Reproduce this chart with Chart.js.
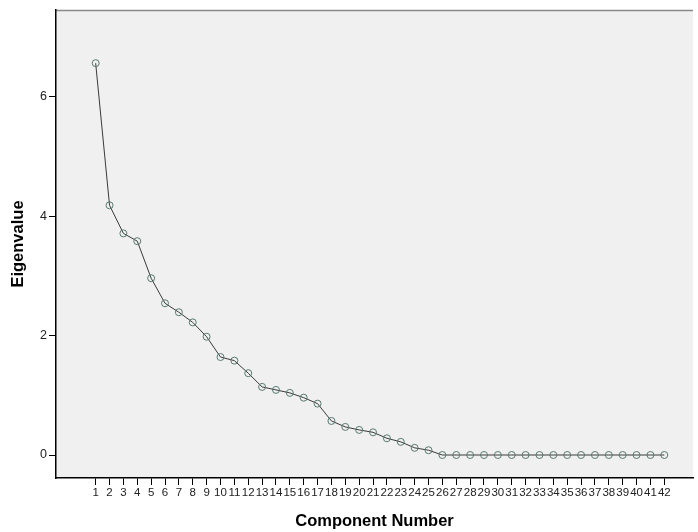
<!DOCTYPE html>
<html>
<head>
<meta charset="utf-8">
<script src="https://cdn.jsdelivr.net/npm/chart.js@4/dist/chart.umd.min.js"></script>
<style>
  html, body { margin: 0; padding: 0; background: #ffffff; }
  #wrap { width: 698px; height: 532px; }
</style>
</head>
<body>
<div id="wrap"><canvas id="c" width="698" height="532"></canvas></div>
<script>
// Component numbers (x categories)
const components = [1,2,3,4,5,6,7,8,9,10,11,12,13,14,15,16,17,18,19,20,21,
                    22,23,24,25,26,27,28,29,30,31,32,33,34,35,36,37,38,39,40,41,42];
// Eigenvalues
const eigenvalues = [6.56,4.18,3.71,3.58,2.96,2.54,2.39,2.22,1.98,1.64,1.58,1.37,
                     1.14,1.09,1.04,0.96,0.86,0.57,0.47,0.42,0.38,0.28,0.22,0.12,0.08,
                     0,0,0,0,0,0,0,0,0,0,0,0,0,0,0,0,0];
// Y tick labels
const yTicks = [0, 2, 4, 6];

const xTitle = 'Component Number';
const yTitle = 'Eigenvalue';

const points = components.map((c, i) => ({ x: c, y: eigenvalues[i] }));

const plotBg = {
  id: 'plotBg',
  beforeDraw(chart) {
    const { ctx, chartArea: a } = chart;
    ctx.save();
    ctx.fillStyle = '#f0f0f0';
    ctx.fillRect(a.left, a.top, a.right - a.left, a.bottom - a.top);
    ctx.strokeStyle = '#8a8a8a';
    ctx.lineWidth = 1.5;
    ctx.beginPath();
    ctx.moveTo(a.left, a.top + 0.5);
    ctx.lineTo(a.right, a.top + 0.5);
    ctx.stroke();
    ctx.restore();
  }
};

new Chart(document.getElementById('c'), {
  type: 'line',
  data: {
    datasets: [{
      data: points,
      borderColor: '#3a3a3a',
      borderWidth: 1,
      pointStyle: 'circle',
      pointRadius: 3.5,
      pointBorderWidth: 1,
      pointBorderColor: '#587a72',
      pointBackgroundColor: 'rgba(0,0,0,0)',
      tension: 0,
      fill: false
    }]
  },
  options: {
    responsive: false,
    animation: false,
    layout: { padding: { top: 10, right: 0, bottom: 0, left: 0 } },
    plugins: { legend: { display: false }, tooltip: { enabled: false } },
    scales: {
      x: {
        type: 'linear',
        min: -1.86,
        max: 44.07,
        afterBuildTicks: s => { s.ticks = components.map(v => ({ value: v })); },
        afterFit: s => { s.height = 54; },
        border: { display: true, color: '#000000', width: 1.5 },
        grid: { drawOnChartArea: false, drawTicks: true, tickLength: 7, color: '#000000', lineWidth: 1 },
        ticks: {
          autoSkip: false, maxRotation: 0, minRotation: 0, padding: 1,
          color: '#222222',
          font: { family: '"Liberation Sans", Arial, sans-serif', size: 11.5 },
          callback: v => String(v)
        },
        title: {
          display: true, text: xTitle, color: '#000000',
          font: { family: '"Liberation Sans", Arial, sans-serif', size: 16.5, weight: 'bold' },
          padding: { top: 0, bottom: 1 }
        }
      },
      y: {
        type: 'linear',
        min: -0.385,
        max: 7.45,
        afterBuildTicks: s => { s.ticks = yTicks.map(v => ({ value: v })); },
        afterFit: s => { s.width = 56; },
        border: { display: true, color: '#000000', width: 1.5 },
        grid: { drawOnChartArea: false, drawTicks: true, tickLength: 7, color: '#000000', lineWidth: 1 },
        ticks: {
          padding: 2, color: '#222222',
          font: { family: '"Liberation Sans", Arial, sans-serif', size: 12.5 },
          callback: v => String(v)
        },
        title: {
          display: true, text: yTitle, color: '#000000',
          font: { family: '"Liberation Sans", Arial, sans-serif', size: 16.5, weight: 'bold' },
          padding: { top: 9, bottom: 0 }
        }
      }
    }
  },
  plugins: [plotBg]
});
</script>
</body>
</html>
